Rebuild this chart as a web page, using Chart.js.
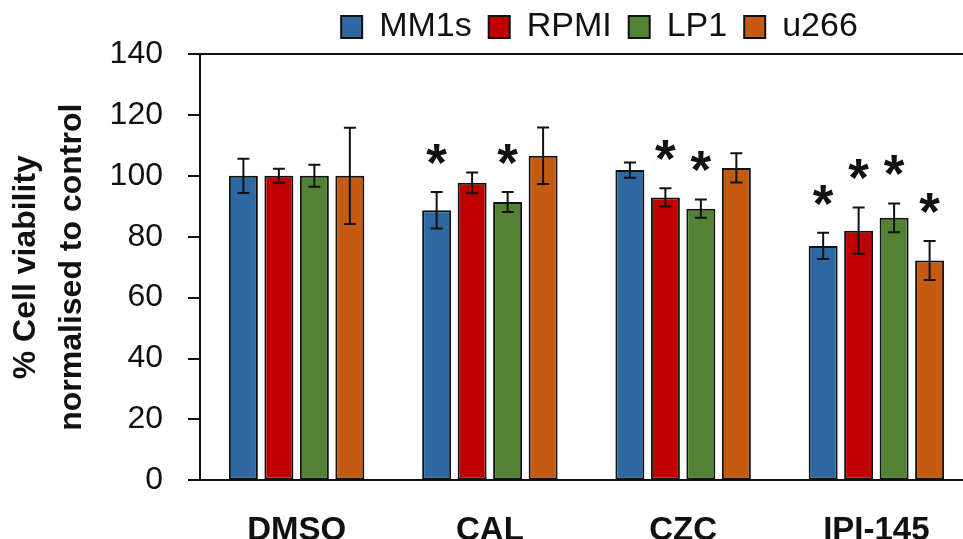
<!DOCTYPE html>
<html>
<head>
<meta charset="utf-8">
<script src="https://cdn.jsdelivr.net/npm/chart.js@4.4.1/dist/chart.umd.min.js"></script>
<style>
  html, body { margin: 0; padding: 0; background: #fff; overflow: hidden; }
  #wrap { width: 963px; height: 539px; overflow: hidden; position: relative; }
  #chart { position: absolute; left: 0; top: 0; }
</style>
</head>
<body>
<div id="wrap"><canvas id="chart" width="975" height="582"></canvas></div>
<script>
const treatments = ['DMSO', 'CAL', 'CZC', 'IPI-145'];
const cellLines = ['MM1s', 'RPMI', 'LP1', 'u266'];

// mean % viability
const mm1sMean = [100, 88.7, 101.9, 77.0];
const rpmiMean = [100, 97.7, 92.9, 82.0];
const lp1Mean  = [100, 91.4, 89.2, 86.2];
const u266Mean = [100, 106.6, 102.6, 72.2];

// error bar half-heights
const mm1sErr = [5.6, 6.0, 2.5, 4.3];
const rpmiErr = [2.3, 3.4, 3.0, 7.6];
const lp1Err  = [3.6, 3.3, 3.0, 4.7];
const u266Err = [15.8, 9.3, 4.8, 6.4];

// significance asterisks
const mm1sSig = [false, true, false, true];
const rpmiSig = [false, false, true, true];
const lp1Sig  = [false, true, true, true];
const u266Sig = [false, false, false, true];

const yTickValues = [0, 20, 40, 60, 80, 100, 120, 140];

const FONT = '"Liberation Sans", Arial, sans-serif';
const INK = '#111';

const errorBars = {
  id: 'errorBars',
  afterDatasetsDraw(chart) {
    const ctx = chart.ctx;
    const y = chart.scales.y;
    ctx.save();
    ctx.strokeStyle = INK;
    ctx.fillStyle = INK;
    ctx.lineWidth = 2;
    // size the asterisk so its glyph is about 20px tall
    ctx.font = 'bold 100px ' + FONT;
    let m = ctx.measureText('*');
    const starSize = Math.round(100 * 20 / (m.actualBoundingBoxAscent + m.actualBoundingBoxDescent));
    ctx.font = 'bold ' + starSize + 'px ' + FONT;
    m = ctx.measureText('*');
    ctx.textAlign = 'center';
    ctx.textBaseline = 'alphabetic';
    chart.data.datasets.forEach((ds, i) => {
      const meta = chart.getDatasetMeta(i);
      meta.data.forEach((bar, j) => {
        const v = ds.data[j], e = ds.errors[j];
        const top = y.getPixelForValue(v + e);
        const bot = y.getPixelForValue(v - e);
        ctx.beginPath();
        ctx.moveTo(bar.x, top); ctx.lineTo(bar.x, bot);
        ctx.moveTo(bar.x - 6, top); ctx.lineTo(bar.x + 6, top);
        ctx.moveTo(bar.x - 6, bot); ctx.lineTo(bar.x + 6, bot);
        ctx.stroke();
        if (ds.sig[j]) {
          const cy = top - 23;
          const base = cy - (m.actualBoundingBoxDescent - m.actualBoundingBoxAscent) / 2;
          ctx.fillText('*', bar.x, base);
        }
      });
    });
    ctx.restore();
  }
};

const legendPlace = {
  id: 'legendPlace',
  afterLayout(chart) {
    const lg = chart.legend;
    lg.left += 113; lg.right += 113;
    lg.top -= 7; lg.bottom -= 7;
  }
};

function series(label, data, errors, sig, color) {
  return {
    label, data, errors, sig,
    backgroundColor: color,
    borderColor: INK,
    borderWidth: 2,
    borderSkipped: false,
    xAxisID: 'x',
    yAxisID: 'y'
  };
}

new Chart(document.getElementById('chart'), {
  type: 'bar',
  data: {
    labels: treatments,
    datasets: [
      series(cellLines[0], mm1sMean, mm1sErr, mm1sSig, '#2D68A3'),
      series(cellLines[1], rpmiMean, rpmiErr, rpmiSig, '#C00000'),
      series(cellLines[2], lp1Mean, lp1Err, lp1Sig, '#548235'),
      series(cellLines[3], u266Mean, u266Err, u266Sig, '#C55A11')
    ]
  },
  options: {
    responsive: false,
    animation: false,
    categoryPercentage: 0.7345,
    barPercentage: 0.817,
    layout: { padding: { left: 0, right: 2, top: 0, bottom: 0 } },
    plugins: {
      tooltip: { enabled: false },
      legend: {
        position: 'top',
        maxHeight: 54,
        labels: {
          boxWidth: 21,
          boxHeight: 22,
          padding: 17,
          color: INK,
          font: { family: FONT, size: 34 }
        }
      }
    },
    scales: {
      x: {
        grid: { display: false, drawTicks: false },
        border: { display: true, color: INK, width: 2 },
        ticks: { color: INK, padding: 31, font: { family: FONT, size: 33, weight: 'bold' } }
      },
      x2: {
        position: 'top',
        grid: { display: false, drawTicks: false },
        border: { display: true, color: INK, width: 2 },
        ticks: { display: false }
      },
      y: {
        min: 0,
        max: 140,
        afterBuildTicks: s => { s.ticks = yTickValues.map(v => ({ value: v })); },
        afterFit: s => { s.width = 200; },
        grid: { drawOnChartArea: false, drawTicks: true, tickLength: 12, color: INK, lineWidth: 2 },
        border: { display: true, color: INK, width: 2 },
        ticks: { color: INK, padding: 25, font: { family: FONT, size: 32 } },
        title: {
          display: true,
          text: ['% Cell viability', 'normalised to control'],
          color: INK,
          padding: { top: 3, bottom: 0 },
          font: { family: FONT, size: 32, weight: 'bold', lineHeight: 1.4375 }
        }
      }
    }
  },
  plugins: [errorBars, legendPlace]
});
</script>
</body>
</html>
